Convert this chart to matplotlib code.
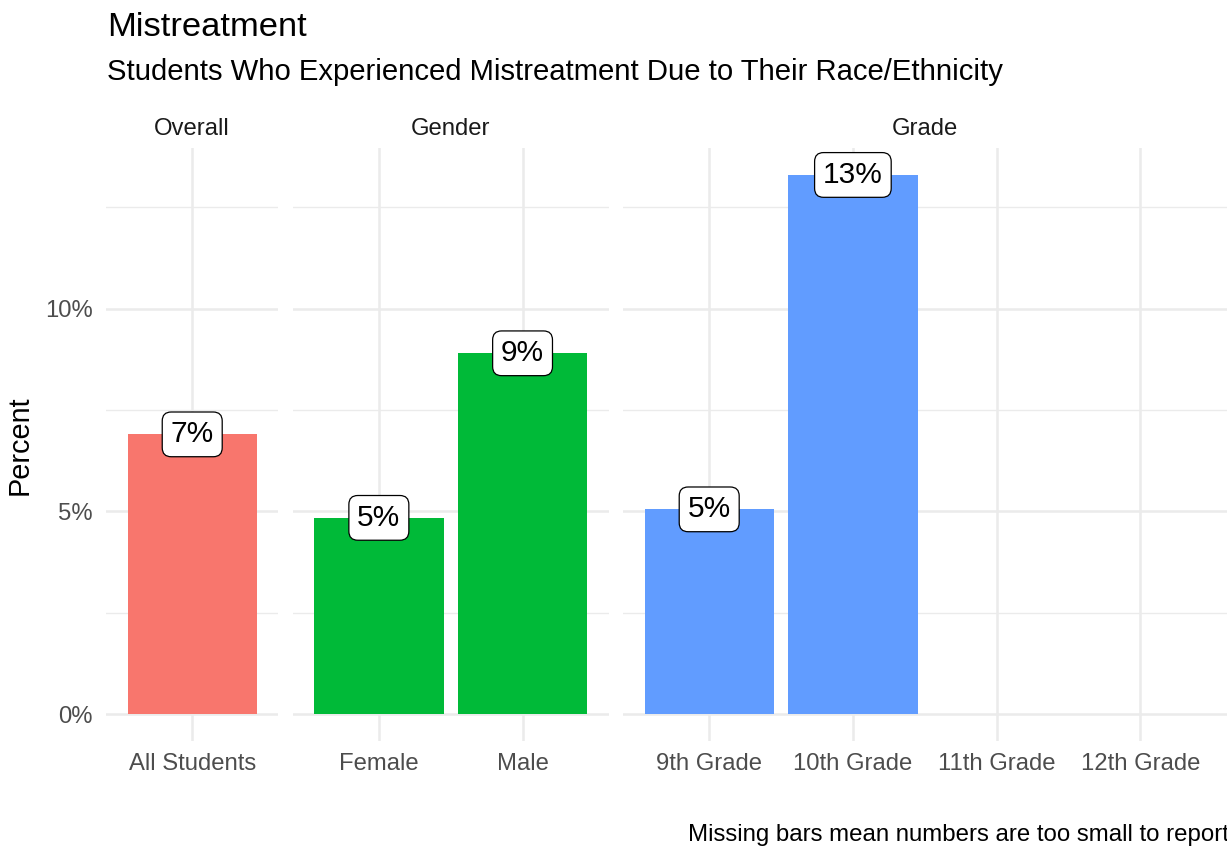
import matplotlib.pyplot as plt
import numpy as np

plt.rcParams['font.family'] = ['Liberation Sans', 'DejaVu Sans']

# data
facets = ['Overall', 'Gender', 'Grade']
overall_cats = ['All Students']
overall_vals = [6.9]
gender_cats = ['Female', 'Male']
gender_vals = [4.84, 8.9]
grade_cats = ['9th Grade', '10th Grade', '11th Grade', '12th Grade']
grade_vals = [5.05, 13.3, np.nan, np.nan]
colors = ['#F8766D', '#00BA38', '#619CFF']
y_ticks = [0, 5, 10]
y_minor = [2.5, 7.5, 12.5]

W, H = 1227, 848
fig = plt.figure(figsize=(W / 100, H / 100), dpi=100)

unit = 143.7
gap = 14.2
left0 = 106
top_px, bot_px = 148, 741
ymax = 13.3 * 1.05
ymin = -13.3 * 0.05

groups = [(overall_cats, overall_vals), (gender_cats, gender_vals), (grade_cats, grade_vals)]
x = left0
axes = []
for i, (cats, vals) in enumerate(groups):
    w = (len(cats) - 1 + 1.2) * unit
    ax = fig.add_axes([x / W, 1 - bot_px / H, w / W, (bot_px - top_px) / H])
    x += w + gap
    axes.append(ax)
    pos = np.arange(len(cats))
    ax.set_xlim(-0.6, len(cats) - 0.4)
    ax.set_ylim(ymin, ymax)
    for m in y_minor:
        ax.axhline(m, color='#EBEBEB', lw=1.0, zorder=0)
    for t in y_ticks:
        ax.axhline(t, color='#EBEBEB', lw=1.8, zorder=0)
    for p in pos:
        ax.axvline(p, color='#EBEBEB', lw=1.8, zorder=0)
    ax.bar(pos, vals, width=0.9, color=colors[i], zorder=2)
    for p, v in zip(pos, vals):
        if np.isnan(v):
            continue
        ax.text(p, v, f'{round(v):.0f}%', ha='center', va='center', fontsize=21.5,
                zorder=3,
                bbox=dict(boxstyle='round,pad=0.28,rounding_size=0.3', fc='white',
                          ec='black', lw=0.9))
    ax.set_xticks(pos)
    ax.set_xticklabels(cats, fontsize=17.2, color='#4D4D4D')
    ax.set_yticks(y_ticks)
    if i == 0:
        ax.set_yticklabels([f'{t}%' for t in y_ticks], fontsize=17.2, color='#4D4D4D')
    else:
        ax.set_yticklabels([])
    ax.tick_params(length=0, axis='x', pad=8.5)
    ax.tick_params(length=0, axis='y', pad=9.5)
    for s in ax.spines.values():
        s.set_visible(False)
    ax.set_title(facets[i], fontsize=17.2, color='#1A1A1A', pad=9.5)

fig.text(107 / W, 1 - 27 / H, 'Mistreatment', fontsize=24.8, ha='left', va='center')
fig.text(107 / W, 1 - 72 / H, 'Students Who Experienced Mistreatment Due to Their Race/Ethnicity',
         fontsize=21.1, ha='left', va='center')
fig.text(20 / W, 1 - 445 / H, 'Percent', fontsize=20.8, rotation=90, ha='center', va='center')
fig.text(1229 / W, 1 - 835 / H, 'Missing bars mean numbers are too small to report',
         fontsize=17.3, ha='right', va='center')

fig.savefig('out.png', dpi=100, facecolor='white')
